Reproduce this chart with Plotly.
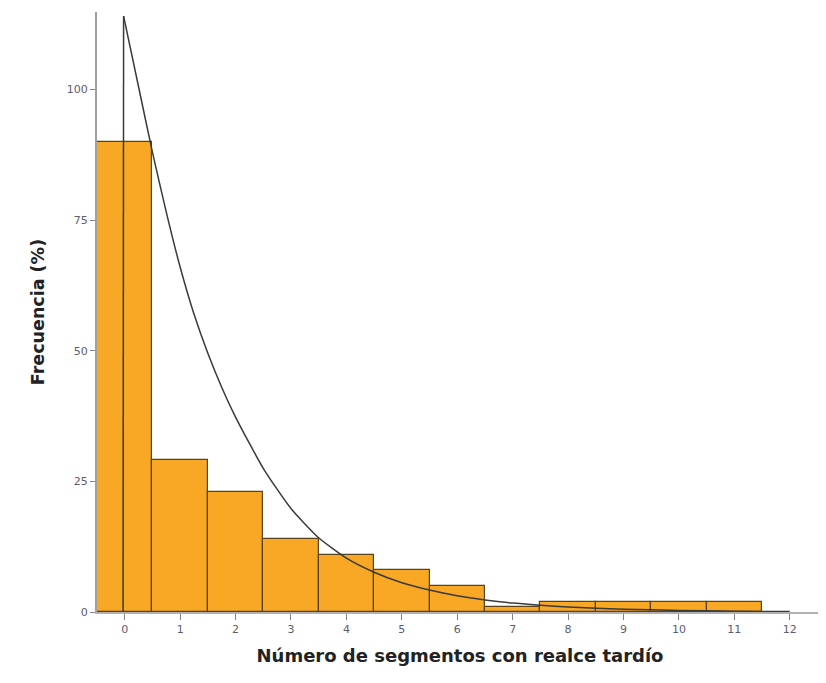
import plotly.graph_objects as go

# Histogram data
categories = [0, 1, 2, 3, 4, 5, 6, 7, 8, 9, 10, 11]
frecuencia = [90, 29, 23, 14, 11, 8, 5, 1, 2, 2, 2, 2]

# Fitted density curve
rise_x = [-0.03, -0.02]
rise_y = [0, 114]
curve_x = [-0.02, 0.25, 0.5, 0.75, 1.0, 1.25, 1.5, 1.75, 2.0, 2.5, 3.0, 3.5,
           4.0, 4.5, 5.0, 5.5, 6.0, 6.5, 7.0, 7.5, 8.0, 9.0, 10.0, 11.0, 12.0]
curve_y = [114, 100.5, 88, 76.5, 66, 57, 49.5, 43, 37.3, 27.5, 19.8, 14.2,
           10.3, 7.6, 5.6, 4.2, 3.1, 2.3, 1.7, 1.3, 0.95, 0.55, 0.3, 0.15, 0.08]

x_ticks = list(range(0, 13))
y_ticks = [0, 25, 50, 75, 100]

fig = go.Figure()
fig.add_trace(go.Bar(
    x=categories, y=frecuencia, width=1,
    marker=dict(color="#F9A826", line=dict(color="#58431c", width=1.2)),
    showlegend=False, hoverinfo="x+y",
))
# vertical rise of the curve
fig.add_trace(go.Scatter(
    x=rise_x, y=rise_y, mode="lines",
    line=dict(color="#3a3a3a", width=1.5), showlegend=False, cliponaxis=False,
))
# decaying part
fig.add_trace(go.Scatter(
    x=curve_x, y=curve_y, mode="lines",
    line=dict(color="#3a3a3a", width=1.5, shape="spline", smoothing=0.6),
    showlegend=False, cliponaxis=False,
))

tickfont = dict(family="DejaVu Sans", size=11, color="#5c5c72")

fig.update_layout(
    # page body has an 8px margin, so the figure is sized/placed to compensate
    width=818, height=675,
    margin=dict(l=89, r=3, t=4, b=71),
    plot_bgcolor="white", paper_bgcolor="white",
    bargap=0,
    xaxis=dict(
        range=[-0.5, 12.6], tickmode="array", tickvals=x_ticks,
        ticktext=[str(v) for v in x_ticks],
        showgrid=False, zeroline=False,
        showline=True, linecolor="#b0b0b0", linewidth=2,
        ticks="outside", ticklen=6, tickcolor="#808080", tickwidth=1,
        tickfont=tickfont,
        title=dict(text="<b>Número de segmentos con realce tardío</b>",
                   font=dict(family="DejaVu Sans", size=18, color="#222222"),
                   standoff=14),
    ),
    yaxis=dict(
        range=[0, 114.8], tickmode="array", tickvals=y_ticks,
        ticktext=[str(v) for v in y_ticks],
        showgrid=False, zeroline=False,
        showline=True, linecolor="#a0a0a0", linewidth=2,
        ticks="outside", ticklen=5, tickcolor="#808080", tickwidth=1,
        tickfont=tickfont,
        title=dict(text="<b>Frecuencia (%)</b>",
                   font=dict(family="DejaVu Sans", size=17.5, color="#222222"),
                   standoff=18),
    ),
)

fig.write_html("out.html")
